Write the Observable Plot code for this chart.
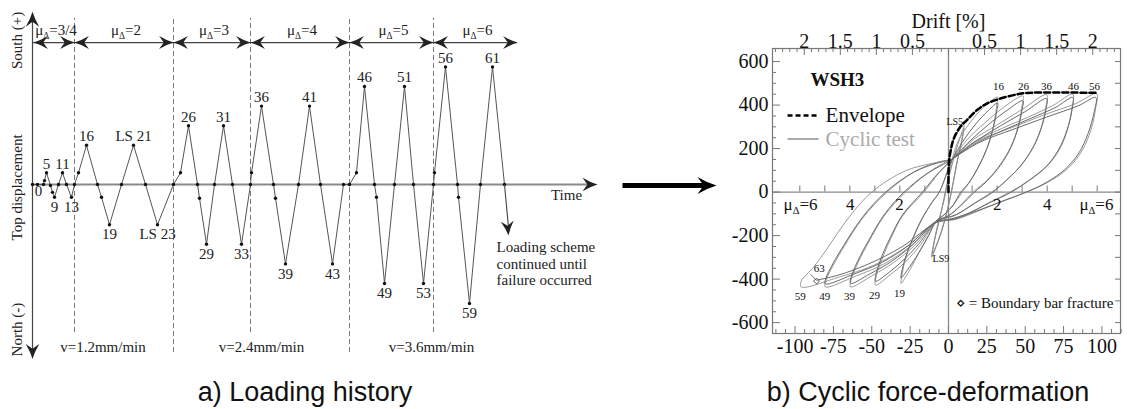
<!DOCTYPE html>
<html><head><meta charset="utf-8">
<script src="https://cdn.jsdelivr.net/npm/d3@7"></script>
<script src="https://cdn.jsdelivr.net/npm/@observablehq/plot@0.6"></script>
<style>
body{margin:0;background:#fff;}
#wrap{position:relative;width:1129px;height:409px;overflow:hidden;background:#fff;}
#left{position:absolute;left:0;top:0;}
#right{position:absolute;left:720px;top:0;}
.cap{position:absolute;top:379px;line-height:27px;font-family:"Liberation Sans",Arial,sans-serif;font-size:27px;color:#111;white-space:nowrap;transform:translateX(-50%);}
</style></head><body>
<div id="wrap"><div id="left"></div><div id="right"></div>
<div class="cap" style="left:305px">a) Loading history</div>
<div class="cap" style="left:928px">b) Cyclic force-deformation</div></div>
<script>
// ---------------- DATA: loading history ----------------
const loadTime = [0,5,11,12,14,18,20,22,26,30,34,39,42,46,54,65,69,77,89,101,113,125,141,148,156,165,167,174,182,191,200,209,218,219,229,241,243,253,266,277,288,300,311,317,324,332,342,344,352,362,372,381,391,401,402,413,425,426,437,448,460,472];
const loadDisp = [0,0,0,0.2,0.6,-0.05,-0.4,-0.65,0,0.6,0,-0.65,0,0.6,2,0,-0.65,-2.05,0,2,0,-2.05,0,0.6,3,0,-0.7,-3.05,0,3,0,-3.05,0,0.6,4,0,-0.7,-4.05,0,4,0,-4.05,0,0,0.6,5,0,-0.65,-5.05,0,5,0,-5.05,0,0.6,6,0,-0.65,-6.07,0,6,0];
const peakText = ["5","11","16","LS 21","26","31","36","41","46","51","56","61"];
const peakTime = [14,30,54,101,156,191,229,277,332,372,413,460];
const peakDisp = [0.6,0.6,2,2,3,3,4,4,5,5,6,6];
const troughText = ["9","13","19","LS 23","29","33","39","43","49","53","59"];
const troughTime = [22,39,77,125,174,209,253,300,352,391,437];
const troughDisp = [-0.65,-0.65,-2.05,-2.05,-3.05,-3.05,-4.05,-4.05,-5.05,-5.05,-6.07];
const muLabels = ["3/4","2","3","4","5","6"];
const muBounds = [1,42,141,218,317,401,485];
const speedText = ["v=1.2mm/min","v=2.4mm/min","v=3.6mm/min"];
const speedBounds = [0,141,317,481];
const continuedEnd = [476,-2.6];

// ---------------- DATA: force-deformation ----------------
const envelopeX = [0,0.2,1.3,3.5,7.8,12,18.6,25,33.8,44.6,51,96.6];
const envelopeF = [0,126,187,247,301,331,377,407,430,449,456,456];
const loopInit = [[0,0],[0.3,120],[1.5,190],[4,250],[10,308],[9,255],[6,150],[3,40],[0,-60],[-4,-170],[-8,-250],[-11,-299],[-10,-250],[-7,-150],[-3,-40],[0,60],[4,170],[8,260],[10,295],[9,245],[5,120],[1,-30],[-4,-165],[-8,-245],[-10.5,-285],[-9,-220],[-5,-100],[-1,40],[2,140]];
const loopMu2a = [[2,140],[6,230],[12,300],[20,370],[26,410],[32,437],[31.5,400],[30,330],[27,240],[22,150],[16,70],[9,0],[3,-60],[-3,-105],[-8,-135],[-13,-200],[-19,-275],[-25,-355],[-31,-420],[-30.5,-390],[-28.5,-320],[-24,-225],[-18,-130],[-11,-50],[-6,0],[-1,90],[2,145]];
const loopMu2b = [[2,145],[10,240],[18,315],[26,375],[32,410],[31.5,375],[29,290],[25,200],[19,110],[13,40],[8,0],[3,-60],[-3,-105],[-8,-132],[-13,-200],[-19,-275],[-25,-340],[-31,-395],[-30.5,-368],[-28,-300],[-23,-210],[-17,-120],[-11,-50],[-6,0],[-1,88],[2,145]];
const loopMu3a = [[2,145],[12,240],[24,320],[36,390],[48.5,442],[48,400],[46,320],[42,230],[35,140],[26,60],[16,0],[8,-60],[0,-110],[-8,-136],[-18,-240],[-28,-320],[-38,-380],[-47.6,-428],[-47.5,-400],[-44,-320],[-38,-220],[-30,-110],[-16,0],[-6,90],[2,150]];
const loopMu3b = [[2,150],[14,235],[26,310],[38,375],[48.5,420],[48,380],[45.5,300],[41,210],[34,125],[25,50],[17,0],[8,-62],[0,-108],[-8,-134],[-19,-235],[-29,-310],[-38,-365],[-47.6,-410],[-47.5,-385],[-44,-305],[-38,-210],[-30,-105],[-17,0],[-7,85],[2,145]];
const loopMu4a = [[2,145],[16,240],[32,310],[48,380],[64,448],[63.5,395],[61,310],[56,215],[48,130],[38,55],[28,0],[16,-55],[4,-108],[-8,-137],[-22,-245],[-36,-325],[-50,-385],[-63.8,-436],[-63.5,-405],[-59,-325],[-52,-230],[-42,-110],[-28,0],[-14,85],[-4,130],[2,150]];
const loopMu4b = [[2,150],[18,235],[34,305],[50,370],[64,430],[63.5,380],[60.5,295],[55,205],[47,120],[37,50],[29,0],[17,-52],[5,-104],[-8,-134],[-23,-240],[-37,-318],[-51,-375],[-63.8,-420],[-63.5,-392],[-59,-315],[-52,-222],[-42,-105],[-29,0],[-15,80],[-4,125],[2,145]];
const loopMu5a = [[2,145],[16,228],[34,290],[52,345],[68,398],[81,450],[80.5,390],[78,300],[73,205],[65,125],[53,55],[40,0],[26,-50],[12,-100],[0,-128],[-8,-138],[-25,-250],[-42,-330],[-60,-385],[-80.3,-436],[-80,-410],[-75,-335],[-68,-250],[-56,-120],[-40,0],[-22,95],[-8,135],[2,150]];
const loopMu5b = [[2,150],[18,225],[36,285],[54,340],[70,390],[81,435],[80.5,378],[77.5,290],[72,198],[64,120],[52,52],[41,0],[27,-48],[13,-98],[0,-126],[-8,-136],[-26,-245],[-43,-322],[-61,-375],[-80.3,-422],[-80,-398],[-75,-325],[-68,-242],[-56,-115],[-41,0],[-23,90],[-8,132],[2,148]];
const loopMu6a = [[2,148],[18,232],[40,293],[62,354],[83,407],[96.6,452],[96,390],[93,290],[87,190],[78,110],[66,50],[51,0],[36,-40],[20,-85],[5,-125],[-8,-140],[-28,-254],[-49,-337],[-71,-390],[-96,-436],[-96,-410],[-88,-345],[-80,-269],[-65,-117],[-50,0],[-28,98],[-8,136],[2,150]];
const loopMu6b = [[2,150],[20,228],[42,288],[64,345],[85,398],[96,435],[95,370],[91,270],[85,180],[76,105],[64,45],[50,-2],[35,-42],[18,-88],[4,-124],[-8,-140],[-30,-250],[-52,-330],[-72,-382],[-86,-405]];
const fracture = [[-86,-409]];
const fractureLeader = [[-89.7,-379],[-88,-392],[-86.5,-403]];
const posPeakText = ["16","26","36","46","56"];
const posPeakX = [32.6,48.9,63.8,81.4,95.1];
const negPeakText = ["19","29","39","49","59"];
const negPeakX = [-31.9,-48.2,-64.5,-80.6,-96.6];
const negPeakF = [-420,-428,-436,-436,-436];
const muTickX = [15.4,31.7,48,64.3,80.6,96.9];
const muTextLeft = ["μΔ=6","4","2"];
const muTextLeftX = [-96.4,-64,-32];
const muTextRight = ["2","4","μΔ=6"];
const muTextRightX = [31.7,64.3,96.4];
const forceTicks = [600,400,200,0,-200,-400,-600];
const dispTicks = [-100,-75,-50,-25,0,25,50,75,100];
const driftTicks = [-2,-1.5,-1,-0.5,0.5,1,1.5,2];
const mmPerDrift = 47;

// ---------------- helpers ----------------
const serif = '"Liberation Serif","Times New Roman",serif';
function barb(deg){
  const a = deg*Math.PI/180, c = Math.cos(a), s0 = Math.sin(a);
  return {draw(ctx, size){
    const s = Math.sqrt(size/Math.PI);
    const P = (x,y)=>[x*s*c - y*s*s0, x*s*s0 + y*s*c];
    const p0=P(0,0), q1=P(-1,-0.3), p1=P(-2,-0.9), p2=P(-1.35,0), p3=P(-2,0.9), q2=P(-1,0.3);
    ctx.moveTo(...p0); ctx.quadraticCurveTo(...q1, ...p1); ctx.lineTo(...p2); ctx.lineTo(...p3); ctx.quadraticCurveTo(...q2, ...p0); ctx.closePath();
  }};
}
function subDelta(svg, shift){
  const ns = "http://www.w3.org/2000/svg";
  svg.querySelectorAll("text").forEach(t=>{
    if (t.childElementCount===0 && t.textContent.includes("μΔ")) {
      const parts = t.textContent.split("μΔ");
      t.textContent = "";
      const a = document.createElementNS(ns,"tspan"); a.textContent = parts[0]+"μ";
      const b = document.createElementNS(ns,"tspan"); b.textContent = "Δ"; b.setAttribute("font-size","62%"); b.setAttribute("dy", shift);
      const c = document.createElementNS(ns,"tspan"); c.textContent = parts[1]; c.setAttribute("dy", -shift);
      t.append(a,b,c);
    }
  });
}

// ---------------- LEFT: loading history ----------------
const load = loadTime.map((t,i)=>({t, d: loadDisp[i]}));
const peaks = peakText.map((s,i)=>({s, t: peakTime[i], d: peakDisp[i]}));
const troughs = troughText.map((s,i)=>({s, t: troughTime[i], d: troughDisp[i]}));
const phaseLines = muBounds.slice(1, -1);
const muSeg = muLabels.map((m,i)=>({m, a: muBounds[i], b: muBounds[i+1]}));
const speeds = speedText.map((s,i)=>({s, t:(speedBounds[i]+speedBounds[i+1])/2}));
const BR = 7.24;

const left = Plot.plot({
  width: 720, height: 360, margin: 0,
  x: {domain: [-32, 688], axis: null},
  y: {domain: [-8.98, 9.388], axis: null},
  style: {fontFamily: serif, fontSize: "15px", background: "transparent", overflow: "visible", color: "#222"},
  marks: [
    Plot.ruleX(phaseLines, {x: d=>d, y1: d=> speedBounds.includes(d) ? -8.57 : -7.55, y2: 8.47, stroke: "#777", strokeDasharray: "5,3", strokeWidth: 1}),
    Plot.ruleX([0], {y1: -8.6, y2: 8.5, stroke: "#444", strokeWidth: 1.2}),
    Plot.dot([[0, 8.82]], {x: d=>d[0], y: d=>d[1], symbol: barb(-90), r: 7.5, fill: "#222"}),
    Plot.dot([[0, -8.9]], {x: d=>d[0], y: d=>d[1], symbol: barb(90), r: 7.5, fill: "#222"}),
    Plot.ruleY([0], {x1: 0, x2: 558, stroke: "#8a8a8a", strokeWidth: 1.8}),
    Plot.dot([[565, 0]], {x: d=>d[0], y: d=>d[1], symbol: barb(0), r: 7.5, fill: "#222"}),
    Plot.ruleY([BR], {x1: muBounds[0], x2: muBounds[muBounds.length-1], stroke: "#444", strokeWidth: 1.2}),
    Plot.dot(muSeg, {x: "a", y: () => BR, symbol: barb(180), r: 7.2, fill: "#222"}),
    Plot.dot(muSeg, {x: "b", y: () => BR, symbol: barb(0), r: 7.2, fill: "#222"}),
    Plot.text(muSeg, {x: d=>(d.a+d.b)/2 + 2, y: () => 7.85, text: d=>"μΔ="+d.m}),
    Plot.line(load, {x: "t", y: "d", stroke: "#555", strokeWidth: 1}),
    Plot.dot(load, {x: "t", y: "d", r: 1.7, fill: "#111"}),
    Plot.link([continuedEnd], {x1: () => 472, y1: () => 0, x2: d=>d[0], y2: d=>d[1]+0.4, stroke: "#444", strokeWidth: 1.1}),
    Plot.dot([continuedEnd], {x: d=>d[0], y: d=>d[1], symbol: barb(85), r: 7.2, fill: "#222"}),
    Plot.text(peaks, {x: "t", y: "d", text: "s", dy: -9}),
    Plot.text(troughs, {x: "t", y: "d", text: "s", dy: 10}),
    Plot.text(["0"], {x: () => 6, y: () => -0.36}),
    Plot.text(speeds, {x: "t", y: () => -8.32, text: "s"}),
    Plot.text(["Time"], {x: () => 534, y: () => -0.56}),
    Plot.text(["Loading scheme\ncontinued until\nfailure occurred"], {x: () => 464, y: () => -4.03, textAnchor: "start", lineHeight: 1.1}),
    Plot.text(["South (+)"], {x: () => -15, y: () => 7.35, rotate: -90}),
    Plot.text(["Top displacement"], {x: () => -15, y: () => -0.15, rotate: -90}),
    Plot.text(["North (-)"], {x: () => -15, y: () => -7.4, rotate: -90}),
    Plot.link([0], {x1: () => 590, x2: () => 672, y1: () => -0.05, y2: () => -0.05, stroke: "#000", strokeWidth: 5}),
    Plot.dot([[684, -0.05]], {x: d=>d[0], y: d=>d[1], symbol: barb(0), r: 9.5, fill: "#000"})
  ]
});
subDelta(left, 4);
document.getElementById("left").append(left);

// ---------------- RIGHT: force-deformation ----------------
const toPts = arr => arr.map(([x,f])=>({x, f}));
const envelope = envelopeX.map((x,i)=>({x, f: envelopeF[i]}));
const loopsA = [loopMu2a, loopMu3a, loopMu4a, loopMu5a, loopMu6a];
const loopsB = [loopMu2b, loopMu3b, loopMu4b, loopMu5b, loopMu6b];
const FH = 285, FW = 348;
const bottomTicks = d3.range(-18, 19).map(i => i*6.25);
const topTicks = d3.range(-24, 24).map(i => i*0.1*mmPerDrift);
const leftTicks = d3.range(-600, 601, 50);
const rightTicks = d3.range(-600, 601, 100);
const muTicksAll = muTickX.concat(muTickX.map(v=>-v));

const right = Plot.plot({
  width: 409, height: 370,
  marginLeft: 52, marginRight: 9, marginTop: 48, marginBottom: 37,
  x: {domain: [-114.7, 112.1], axis: null},
  y: {domain: [-650, 660], axis: null},
  style: {fontFamily: serif, fontSize: "20px", background: "transparent", overflow: "visible", color: "#111"},
  marks: [
    Plot.ruleY([0], {stroke: "#8a8a8a", strokeWidth: 1.3}),
    Plot.ruleX([0], {stroke: "#8a8a8a", strokeWidth: 1.3}),
    Plot.tickX(bottomTicks.filter(d => Math.abs(d % 25) > 1e-6), {x: d=>d, insetTop: FH-4, stroke: "#777"}),
    Plot.tickX(bottomTicks.filter(d => Math.abs(d % 25) < 1e-6), {x: d=>d, insetTop: FH-7, stroke: "#777"}),
    Plot.tickX(topTicks.filter((d,i) => (i % 5) !== 4), {x: d=>d, insetBottom: FH-4, stroke: "#777"}),
    Plot.tickX(topTicks.filter((d,i) => (i % 5) === 4), {x: d=>d, insetBottom: FH-7, stroke: "#777"}),
    Plot.tickY(leftTicks.filter(d => d % 200 !== 0), {y: d=>d, insetRight: FW-4, stroke: "#777"}),
    Plot.tickY(leftTicks.filter(d => d % 200 === 0), {y: d=>d, insetRight: FW-8, stroke: "#777"}),
    Plot.tickY(rightTicks, {y: d=>d, insetLeft: FW-5, stroke: "#777"}),
    Plot.ruleX(muTicksAll, {x: d=>d, y1: 0, y2: 28, stroke: "#777"}),
    Plot.frame({stroke: "#777", strokeWidth: 1.2}),
    Plot.line(toPts(loopInit), {x: "x", y: "f", stroke: "#8a8a8a", strokeWidth: 1, curve: "catmull-rom"}),
    ...loopsA.map(l => Plot.line(toPts(l), {x: "x", y: "f", stroke: "#9a9a9a", strokeWidth: 1, curve: "catmull-rom"})),
    ...loopsB.map(l => Plot.line(toPts(l), {x: "x", y: "f", stroke: "#6a6a6a", strokeWidth: 1, curve: "catmull-rom"})),
    Plot.line(toPts(fractureLeader), {x: "x", y: "f", stroke: "#555", strokeWidth: 0.9, curve: "catmull-rom"}),
    Plot.dot(toPts(fracture), {x: "x", y: "f", symbol: "diamond2", r: 2.6, stroke: "#444", strokeWidth: 0.9}),
    Plot.line(envelope, {x: "x", y: "f", stroke: "#000", strokeWidth: 2.5, strokeDasharray: "6,3", curve: "catmull-rom"}),
    Plot.text(posPeakText, {x: (d,i)=>posPeakX[i], y: () => 456, dy: -6, text: d=>d, fontSize: 11}),
    Plot.text(negPeakText, {x: (d,i)=>negPeakX[i], y: (d,i)=>negPeakF[i], dy: 10, text: d=>d, fontSize: 11}),
    Plot.text(["63"], {x: () => -84.2, y: () => -353, fontSize: 11}),
    Plot.text(["LS5"], {x: () => 9.5, y: () => 322, textAnchor: "end", fontSize: 10}),
    Plot.text(["LS9"], {x: () => -10.4, y: () => -306, textAnchor: "start", fontSize: 10}),
    Plot.text(muTextLeft, {x: (d,i)=>muTextLeftX[i], y: () => 0, dy: 12, text: d=>d, fontSize: 17}),
    Plot.text(muTextRight, {x: (d,i)=>muTextRightX[i], y: () => 0, dy: 12, text: d=>d, fontSize: 17}),
    Plot.text(["WSH3"], {frameAnchor: "top-left", dx: 38, dy: 24, textAnchor: "start", fontWeight: "bold", fontSize: 19}),
    Plot.link([0], {x1: () => -104.9, x2: () => -84.7, y1: () => 352, y2: () => 352, stroke: "#000", strokeWidth: 2.4, strokeDasharray: "5,3"}),
    Plot.text(["Envelope"], {x: () => -80.1, y: () => 352, textAnchor: "start", fontSize: 21}),
    Plot.link([0], {x1: () => -104.9, x2: () => -84.7, y1: () => 244, y2: () => 244, stroke: "#aaa", strokeWidth: 2}),
    Plot.text(["Cyclic test"], {x: () => -80.1, y: () => 244, textAnchor: "start", fontSize: 21, fill: "#aaa"}),
    Plot.text(["⋄ = Boundary bar fracture"], {frameAnchor: "bottom-right", dx: -7, dy: -26, textAnchor: "end", fontSize: 15}),
    Plot.text(forceTicks, {y: d=>d, frameAnchor: "left", dx: -4, textAnchor: "end", text: d=>String(d)}),
    Plot.text(dispTicks, {x: d=>d, frameAnchor: "bottom", dy: 19, text: d=>String(d)}),
    Plot.text(driftTicks, {x: d=>d*mmPerDrift, frameAnchor: "top", dy: -15, text: d=>String(Math.abs(d))}),
    Plot.text(["Drift [%]"], {x: () => 0, frameAnchor: "top", dy: -35})
  ]
});
subDelta(right, 4.5);
document.getElementById("right").append(right);
</script>
</body></html>
